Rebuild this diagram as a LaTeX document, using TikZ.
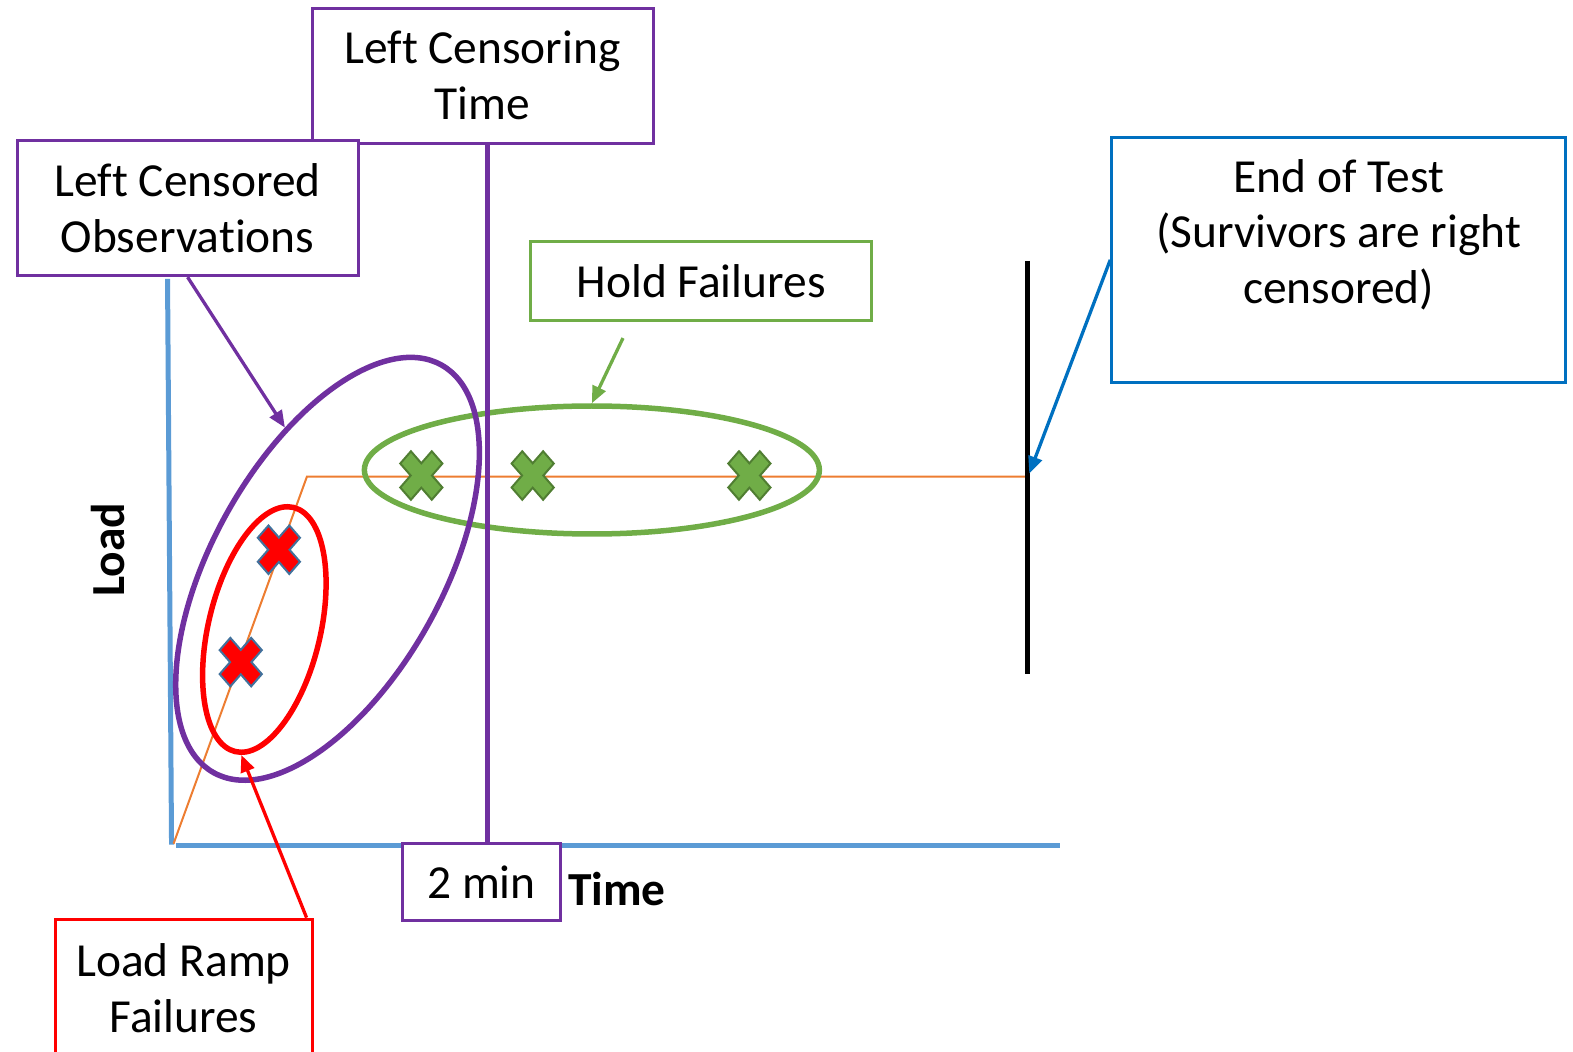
\documentclass[tikz,border=0pt]{standalone}
\usepackage{fontspec}
\setmainfont[Ligatures=NoCommon]{Carlito}
\usetikzlibrary{calc,arrows.meta,shapes.geometric}
\definecolor{cpurple}{HTML}{7030A0}
\definecolor{cgreen}{HTML}{70AD47}
\definecolor{cdkgreen}{HTML}{507E32}
\definecolor{caxis}{HTML}{5B9BD5}
\definecolor{cblue}{HTML}{0070C0}
\definecolor{corange}{HTML}{ED7D31}
\definecolor{cslate}{HTML}{41719C}
\newcommand\lblfont{\fontsize{13.5}{15.9}\selectfont}
\def\failmark(#1)[#2][#3]{\draw[line width=0.2mm, fill=#2, draw=#3, shift={(#1)}, yscale=1.15] (26.33:23.43) -- (63.67:23.43) -- (90:10.6) -- (116.33:23.43) -- (153.67:23.43) -- (180:10.6) -- (206.33:23.43) -- (243.67:23.43) -- (270:10.6) -- (296.33:23.43) -- (333.67:23.43) -- (0:10.6) -- cycle;}
\tikzset{
  box/.style={draw, fill=white, line width=0.3mm, inner sep=0pt, align=center},
  pbox/.style={box, draw=cpurple},
  gbox/.style={box, draw=cgreen},
  bbox/.style={box, draw=cblue},
  rbox/.style={box, draw=red},
  ring/.style={ellipse, draw, line width=0.55mm, inner sep=0pt},
  callout/.style={line width=0.33mm, -{Triangle[length=1.7mm, width=1.4mm]}}
}
\begin{document}
\begin{tikzpicture}[x=0.10032mm, y=-0.10032mm, font=\lblfont]
		%%%%% START %%%%%
		\useasboundingbox (0,0) rectangle (1568,1048);
		
		% axes
		\draw[line width=0.5mm, color=caxis] (167,278) -- (171,842);
		\draw[line width=0.5mm, color=caxis] (175,843) -- (1057,843);
		
		% load profile and end of test
		\draw[line width=0.2mm, color=corange] (173,841) -- (306,475) -- (1024,475);
		\draw[line width=0.5mm, color=black] (1024,260) -- (1024,672);
		\coordinate (eotmark) at (1026,472);
		
		% groups
		\node[ring, draw=cgreen, minimum width=45.5mm, minimum height=12.8mm] (holdring) at (590,468.5) {};
		\node[ring, draw=red, minimum width=25.1mm, minimum height=11.2mm, rotate=76.6] (rampring) at (263.5,627.5) {};
		\node[ring, draw=cpurple, minimum width=46.7mm, minimum height=23mm, rotate=60.8] (lcring) at (326.5,567) {};
		
		\draw[line width=0.45mm, color=cpurple] (486,140) -- (486,840);
		
		% failures
		\failmark(420,474)[cgreen][cdkgreen]
		\failmark(531,474)[cgreen][cdkgreen]
		\failmark(747,474)[cgreen][cdkgreen]
		\failmark(278,548)[red][cslate]
		\failmark(240,660)[red][cslate]
		
		% labels
		\node[pbox, minimum width=34.1mm, minimum height=13.5mm] (lctime) at (481,75.5) {Left Censoring\\Time};
		\node[pbox, minimum width=34.1mm, minimum height=13.5mm] (lcobs) at (187,207.5) {Left Censored\\Observations};
		\node[gbox, minimum width=34.1mm, minimum height=7.9mm] (hold) at (699,280.5) {Hold Failures};
		\node[bbox, minimum width=45.4mm, minimum height=24.5mm] (endtest) at (1334.5,259) {};
		\node[align=center] (endtext) at (1334.5,234) {End of Test\\(Survivors are right\\censored)};
		\node[pbox, minimum width=15.8mm, minimum height=7.7mm] (twomin) at (480,879.5) {2 min};
		\node[rbox, minimum width=25.7mm, minimum height=13.8mm] (ramp) at (183,985) {Load Ramp\\Failures};
		\node[font=\lblfont\bfseries, rotate=90] (load) at (108,548) {Load};
		\node[font=\lblfont\bfseries] (time) at (615,886) {Time};
		\coordinate (holdtail) at (621,337);
		
		% callouts
		\draw[callout, color=cpurple] (lcobs.south) -- (lcring.46.6);
		\draw[callout, color=cgreen] (holdtail) -- (holdring.north);
		\draw[callout, color=red] ($(ramp.north east)+(-7,0)$) -- (rampring.183);
		\draw[callout, color=cblue] (endtest.west) -- (eotmark);
		
		%%%%% END %%%%%
	\end{tikzpicture}
\end{document}
